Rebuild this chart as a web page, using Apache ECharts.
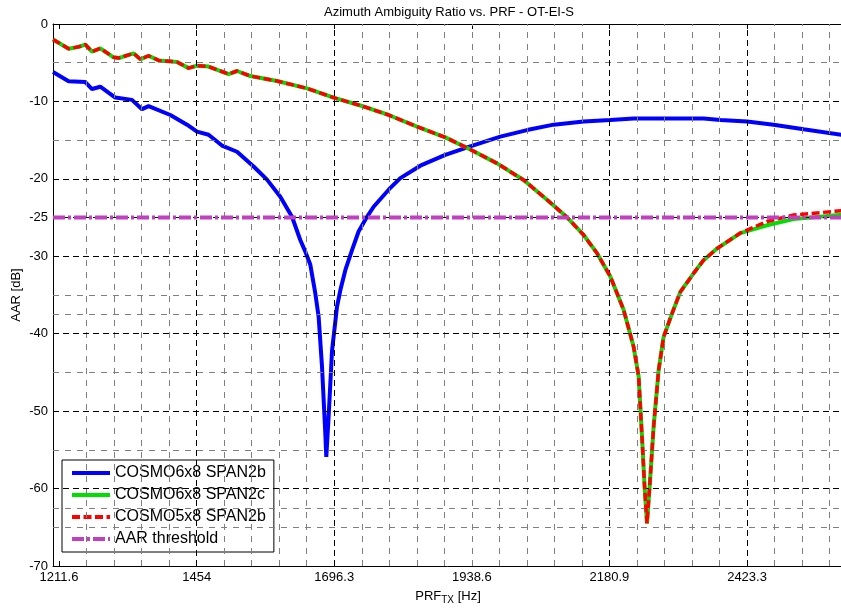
<!DOCTYPE html>
<html>
<head>
<meta charset="utf-8">
<script src="https://cdn.jsdelivr.net/npm/echarts@6/dist/echarts.min.js"></script>
<style>
  html, body { margin: 0; padding: 0; background: #fff; }
  #main { width: 841px; height: 608px; }
</style>
</head>
<body>
<div id="main"></div>
<script>
// PRF axis limits [Hz] and AAR axis limits [dB]
const X_MIN = 1201.0;
const X_MAX = 2592.3;
const Y_MIN = -70;
const Y_MAX = 0;

// Labelled ticks
const xTicks = [1211.6, 1454, 1696.3, 1938.6, 2180.9, 2423.3];
const xTickLabels = ['1211.6', '1454', '1696.3', '1938.6', '2180.9', '2423.3'];
const yTicks = [0, -10, -20, -25, -30, -40, -50, -60, -70];

// Grid lines
const xMajorGrid = [1454, 1696.3, 2180.9, 2423.3];
const xMinorGrid = [1260.1, 1308.5, 1357.0, 1405.5, 1502.5, 1550.9, 1599.4, 1647.8,
  1744.8, 1793.2, 1841.7, 1890.1, 1938.6, 1987.1, 2035.5, 2084.0, 2132.4,
  2229.4, 2277.8, 2326.3, 2374.8, 2471.7, 2520.2, 2568.7];
const yMajorGrid = [-10, -20, -25, -30, -40, -50, -60];
const yMinorGrid = [-5, -15, -35, -37.5, -45, -55, -62.5, -65];

// COSMO6x8 SPAN2b
const span2bPrf = [1201.0, 1228.5, 1257.9, 1269.7, 1284.3, 1310.7, 1340.1, 1357.7, 1369.4,
  1407.6, 1437.0, 1454.6, 1475.0, 1498.6, 1525.1, 1554.3, 1577.9, 1601.3, 1621.9,
  1636.5, 1645.4, 1654.2, 1663.0, 1668.8, 1674.8, 1680.6, 1682.3, 1686.4, 1692.4,
  1701.2, 1707.0, 1715.8, 1727.6, 1739.2, 1754.0, 1765.7, 1792.1, 1812.7, 1847.9,
  1891.9, 1935.9, 1988.8, 2035.8, 2082.7, 2135.5, 2182.5, 2223.6, 2346.9, 2376.3,
  2423.3, 2470.1, 2522.9, 2592.3];
const span2bAar = [-6.2, -7.4, -7.5, -8.4, -8.1, -9.5, -9.8, -11.0, -10.6,
  -11.75, -13.0, -13.9, -14.3, -15.7, -16.5, -18.4, -20.1, -22.3, -24.9,
  -27.9, -29.4, -31.1, -34.8, -37.8, -44.3, -52.9, -55.9, -50.7, -42.2,
  -36.5, -34.4, -31.8, -29.2, -26.8, -24.9, -23.6, -21.4, -19.9, -18.3,
  -16.9, -15.8, -14.55, -13.7, -13.0, -12.6, -12.4, -12.2, -12.2, -12.4,
  -12.6, -13.0, -13.6, -14.35];

// COSMO6x8 SPAN2c
const span2cPrf = [1201.0, 1228.5, 1246.1, 1257.9, 1269.7, 1284.3, 1307.7, 1316.5, 1342.9,
  1354.8, 1369.4, 1387.0, 1419.4, 1439.8, 1454.6, 1475.0, 1510.3, 1525.1, 1548.5,
  1595.5, 1648.4, 1695.2, 1745.2, 1792.1, 1842.1, 1891.9, 1935.9, 1983.0, 2029.8,
  2071.0, 2106.3, 2135.5, 2159.1, 2182.5, 2205.9, 2223.6, 2232.4, 2238.3, 2242.9,
  2247.1, 2251.7, 2258.8, 2267.6, 2276.4, 2291.2, 2305.8, 2329.2, 2346.8, 2370.4,
  2411.4, 2458.4, 2505.0, 2592.3];
const span2cAar = [-2.0, -3.2, -2.95, -2.65, -3.57, -3.14, -4.3, -4.4, -3.79,
  -4.56, -4.1, -4.7, -4.9, -5.7, -5.38, -5.5, -6.46, -6.07, -6.72,
  -7.36, -8.31, -9.51, -10.59, -11.75, -13.26, -14.64, -16.2, -18.0, -20.15,
  -22.7, -24.97, -27.25, -29.6, -32.6, -36.9, -41.7, -45.5, -53.3, -59.8,
  -64.5, -59.8, -52.0, -44.7, -40.4, -37.4, -34.6, -32.2, -30.5, -29.0,
  -27.0, -26.0, -25.2, -24.6];

// COSMO5x8 SPAN2b
const cosmo5Prf = span2cPrf;
const cosmo5Aar = [-2.0, -3.2, -2.95, -2.65, -3.57, -3.14, -4.3, -4.4, -3.79,
  -4.56, -4.1, -4.7, -4.9, -5.7, -5.38, -5.5, -6.46, -6.07, -6.72,
  -7.36, -8.31, -9.51, -10.59, -11.75, -13.26, -14.64, -16.2, -18.0, -20.15,
  -22.7, -24.97, -27.25, -29.6, -32.6, -36.9, -41.7, -45.5, -53.3, -59.8,
  -64.5, -59.8, -52.0, -44.7, -40.4, -37.4, -34.6, -32.2, -30.5, -29.0,
  -27.0, -25.5, -24.67, -24.1];

// Required azimuth ambiguity ratio
const aarThreshold = -25;

const seriesNames = ['COSMO6x8 SPAN2b', 'COSMO6x8 SPAN2c', 'COSMO5x8 SPAN2b', 'AAR threshold'];

const FONT = '"Liberation Sans", Arial, Helvetica, sans-serif';

function pairs(xs, ys) {
  return xs.map((x, i) => [x, ys[i]]);
}

function gridSeries(name, xs, ys, color, dash) {
  return {
    name: name,
    type: 'line',
    data: [],
    silent: true,
    z: 1,
    markLine: {
      silent: true,
      symbol: ['none', 'none'],
      animation: false,
      label: { show: false },
      emphasis: { disabled: true },
      lineStyle: { color: color, width: 1, type: dash },
      data: xs.map(v => ({ xAxis: v })).concat(ys.map(v => ({ yAxis: v })))
    }
  };
}

const chart = echarts.init(document.getElementById('main'), null, { renderer: 'canvas' });

const xAxisBase = {
  type: 'value',
  min: X_MIN,
  max: X_MAX,
  splitLine: { show: false },
  axisLine: { show: true, onZero: false, lineStyle: { color: '#000', width: 1 } },
  axisTick: { show: true, inside: true, length: 5, customValues: xTicks, lineStyle: { color: '#000' } }
};

chart.setOption({
  animation: false,
  backgroundColor: '#fff',
  textStyle: { fontFamily: FONT },
  grid: { left: 53, right: -2, top: 24, bottom: 42, containLabel: false, outerBoundsMode: 'none' },
  graphic: [{
    type: 'text',
    x: 449,
    y: 12,
    style: {
      text: 'Azimuth Ambiguity Ratio vs. PRF - OT-EI-S',
      fontFamily: FONT,
      fontSize: 13,
      fill: '#000',
      align: 'center',
      verticalAlign: 'middle'
    }
  }],
  xAxis: [
    Object.assign({}, xAxisBase, {
      position: 'bottom',
      name: '{a|PRF}{s|TX}{a| [Hz]}',
      nameLocation: 'middle',
      nameGap: 21,
      nameMoveOverlap: false,
      nameTextStyle: {
        rich: {
          a: { fontSize: 13, color: '#000', fontFamily: FONT },
          s: { fontSize: 10, color: '#000', fontFamily: FONT, padding: [8, 0, 0, 0] }
        }
      },
      axisLabel: {
        customValues: xTicks,
        margin: 5,
        color: '#000',
        fontSize: 13,
        fontFamily: FONT,
        formatter: v => {
          const i = xTicks.findIndex(t => Math.abs(t - v) < 1e-6);
          return i >= 0 ? xTickLabels[i] : '';
        }
      }
    }),
    Object.assign({}, xAxisBase, {
      position: 'top',
      axisLabel: { show: false }
    })
  ],
  yAxis: {
    type: 'value',
    min: Y_MIN,
    max: Y_MAX,
    interval: 10,
    name: 'AAR [dB]',
    nameLocation: 'middle',
    nameGap: 30,
    nameMoveOverlap: false,
    nameTextStyle: { color: '#000', fontSize: 13, fontFamily: FONT },
    splitLine: { show: false },
    axisLine: { show: true, onZero: false, lineStyle: { color: '#000', width: 1 } },
    axisTick: { show: true, inside: true, length: 5, customValues: yTicks, lineStyle: { color: '#000' } },
    axisLabel: {
      customValues: yTicks,
      margin: 5,
      color: '#000',
      fontSize: 13,
      fontFamily: FONT
    }
  },
  legend: {
    data: seriesNames,
    orient: 'vertical',
    left: 62,
    top: 460,
    backgroundColor: '#fff',
    borderColor: '#000',
    borderWidth: 1,
    borderRadius: 0,
    padding: [5, 8, 5, 8],
    itemWidth: 38,
    itemHeight: 16,
    itemGap: 6,
    selectedMode: false,
    itemStyle: { opacity: 0, borderWidth: 0 },
    lineStyle: { width: 4, opacity: 1 },
    textStyle: { fontSize: 16, color: '#000', fontFamily: FONT, lineHeight: 16 }
  },
  series: [
    gridSeries('minorGrid', xMinorGrid, yMinorGrid, '#7f7f7f', [6, 6]),
    gridSeries('majorGrid', xMajorGrid, yMajorGrid, '#000000', [6, 4]),
    {
      name: seriesNames[0],
      type: 'line',
      data: pairs(span2bPrf, span2bAar),
      symbol: 'none',
      z: 3,
      lineStyle: { color: '#0000ff', width: 4 },
      itemStyle: { color: '#0000ff' }
    },
    {
      name: seriesNames[1],
      type: 'line',
      data: pairs(span2cPrf, span2cAar),
      symbol: 'none',
      z: 4,
      lineStyle: { color: '#00e000', width: 4 },
      itemStyle: { color: '#00e000' }
    },
    {
      name: seriesNames[2],
      type: 'line',
      data: pairs(cosmo5Prf, cosmo5Aar),
      symbol: 'none',
      z: 5,
      lineStyle: { color: '#ff0000', width: 3.5, type: [8, 3.5] },
      itemStyle: { color: '#ff0000' }
    },
    {
      name: seriesNames[3],
      type: 'line',
      data: [[X_MIN, aarThreshold], [X_MAX, aarThreshold]],
      symbol: 'none',
      z: 6,
      lineStyle: { color: '#c040c0', width: 4, type: [12, 3, 3, 3] },
      itemStyle: { color: '#c040c0' }
    }
  ]
});
</script>
</body>
</html>
